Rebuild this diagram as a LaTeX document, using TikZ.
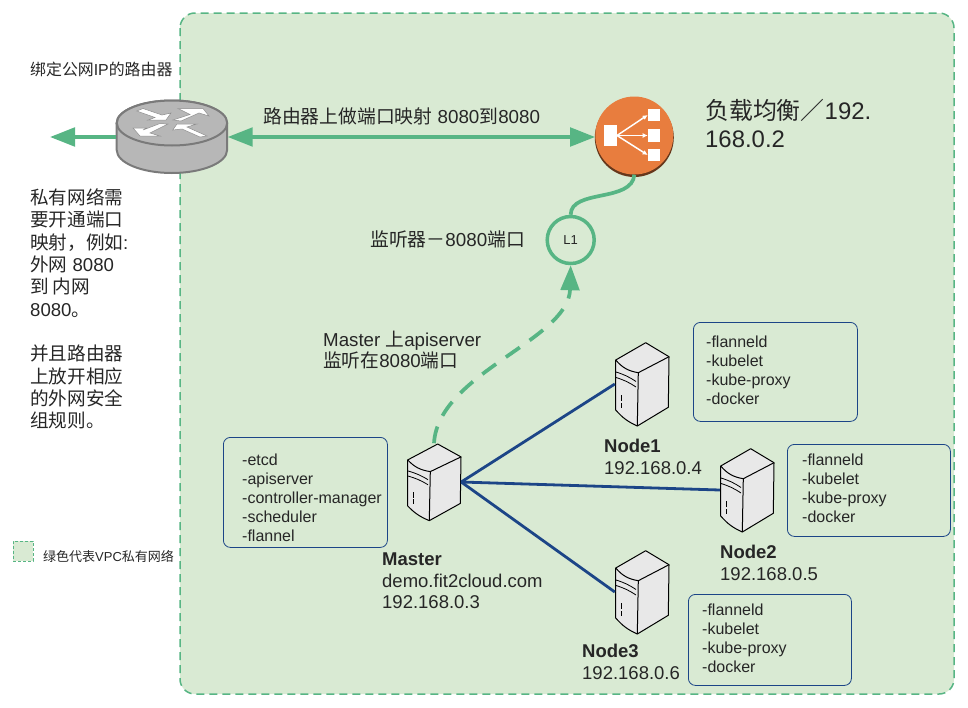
\documentclass[tikz,border=0pt]{standalone}
\usepackage{fontspec}
\setmainfont{Liberation Sans}
\newfontfamily\cjk{Noto Sans CJK SC}
\newcommand{\zh}[1]{{\cjk #1}}
\usetikzlibrary{arrows.meta,positioning}
\definecolor{vpcfill}{HTML}{D9EAD3}
\definecolor{vpcgreen}{HTML}{57B584}
\definecolor{linkblue}{HTML}{1C4587}
\definecolor{routergray}{HTML}{B7B7B7}
\definecolor{lborange}{HTML}{E87D3E}
\tikzset{
  lab/.style={anchor=west,inner sep=0pt,align=left,text=black!85},
  listbox/.style={draw=linkblue,rounded corners=7pt,anchor=north west,inner sep=0pt,
    minimum width=#1,line width=.8pt},
  listtxt/.style={lab,font=\fontsize{16}{19}\selectfont},
  greenline/.style={draw=vpcgreen,line width=3.7pt},
  wire/.style={draw=linkblue,line width=2.8pt},
  srvnode/.style={inner sep=0pt,minimum width=54pt,minimum height=84pt},
  pics/srv/.style={code={
    \draw[fill=black!9,line width=1pt,line join=round]
      (3.7,-41.3)--(27,-27.3)--(26.3,23.3)--(-4.7,42)
      to[bend left=12](-26.3,26)--(-26.3,-24)--cycle;
    \draw[line width=1pt](-26.3,-24)to[bend right=20](-3.7,-11.3)--(27,-27.3);
    \draw[line width=1pt](-3.7,-11.3)--(-4.7,42);
    \draw[line width=.8pt](-26,-12)to[bend left=8](-6,-2.5);
    \draw[line width=.8pt](-26,-6.5)to[bend left=8](-6,3);
    \draw[line width=.7pt](-21,11)--(-21,17)(-21,19)--(-21,24);
  }}
}
\begin{document}
\begin{tikzpicture}[x=1pt,y=-1pt]
\useasboundingbox (0,0) rectangle (968,707);
% VPC area
\draw[fill=vpcfill,draw=vpcgreen,line width=1.5pt,dash pattern=on 8pt off 5pt,rounded corners=15pt]
  (180,13) rectangle (954,694);
% legend
\node (legendbox) [fill=vpcfill,draw=vpcgreen,line width=.8pt,dash pattern=on 3pt off 2pt,
  minimum size=20pt,inner sep=0pt] at (23,551) {};
\node (legendtxt) [lab,font=\fontsize{13}{15}\selectfont] at (43,556) {\zh{绿色代表}VPC\zh{私有网络}};
% left texts
\node (routertxt) [lab,font=\fontsize{15.9}{17}\selectfont] at (30,69) {\zh{绑定公网}IP\zh{的路由器}};
\node (notetxt) [lab,font=\fontsize{18.6}{22.3}\selectfont] at (30,309) {%
  \zh{私有网络需}\\\zh{要开通端口}\\\zh{映射，例如}:\\\zh{外网} 8080\\\zh{到 内网}\\8080\zh{。}\\[22.3pt]%
  \zh{并且路由器}\\\zh{上放开相应}\\\zh{的外网安全}\\\zh{组规则。}};
% router
\node (router) [inner sep=0pt,minimum width=111pt,minimum height=73pt] at (172,137) {};
\draw[fill=routergray,draw=black!52,line width=2pt]
  (116.7,123)--(116.7,150) arc[start angle=180,end angle=360,x radius=55.2,y radius=-23]
  --(227,123) arc[start angle=0,end angle=180,x radius=55.2,y radius=-22.5]--cycle;
\draw[fill=routergray,draw=black!52,line width=2pt] (172,123) ellipse[x radius=55.2,y radius=22.5];
\begin{scope}[fill=white,draw=black!45,line width=.5pt]
  \filldraw (136.7,111)--(143,108.5)--(162,115)--(171,113)--(166,120)--(148,120)--(155,117.5)--cycle;
  \filldraw (173,120)--(190,114.5)--(178,108.5)--(203,108.5)--(209,116)--(199,113)--(181,121)--cycle;
  \filldraw (133,128)--(147,128)--(143,130)--(160,123.5)--(168,124)--(150,133)--(160,136)--(140,136)--cycle;
  \filldraw (172.7,130)--(177,124)--(197,124)--(187,127)--(207,136)--(200,137)--(182,129)--cycle;
\end{scope}
% load balancer
\fill[black!45!lborange!80!black] (634.3,137.5) circle[radius=39.5];
\node (lb) [circle,fill=lborange,minimum size=78pt,inner sep=0pt] at (634.3,135.5) {};
\fill[white] (603.5,125) rectangle (617.3,145.7);
\foreach \y in {115,135.5,155} {
  \fill[white] (647.7,\y-6.3) rectangle (660,\y+6.3);
  \draw[white,line width=1.5pt,-{Latex[length=5pt,width=5pt]}] (617,135.5)--(647.7,\y);
}
\node (lbtxt) [lab,font=\fontsize{23.9}{28}\selectfont] at (705,124) {\zh{负载均衡／}192.\\168.0.2};
% listener
\node (lone) [circle,draw=vpcgreen,line width=3.5pt,minimum size=47pt,inner sep=0pt,
  font=\fontsize{13}{14}\selectfont,text=black!85] at (570.7,240) {L1};
\node (lonetxt) [lab,font=\fontsize{18.8}{19}\selectfont] at (370,239) {\zh{监听器－}8080\zh{端口}};
\node (aptxt) [lab,font=\fontsize{18.7}{21}\selectfont] at (323,350) {Master \zh{上}apiserver\\\zh{监听在}8080\zh{端口}};
% servers
\node (master) [srvnode,yscale=.92] at (434,482) {};
\node (nodeone) [srvnode] at (642,384) {};
\node (nodetwo) [srvnode] at (747,490) {};
\node (nodethree) [srvnode] at (642,592) {};
\path (master) pic[yscale=.92] {srv};
\foreach \n in {nodeone,nodetwo,nodethree}
  \path (\n) pic {srv};
% links
\draw[wire] (master.east)--(nodeone.west);
\draw[wire] (master.east)--(nodetwo.west);
\draw[wire] (master.east)--(nodethree.west);
% green connectors
\coordinate (wan) at (50,137);
\draw[greenline,-{Triangle[length=25pt,width=18.5pt]}] (router.west)--(wan);
\draw[greenline,{Triangle[length=25pt,width=18.5pt]}-{Triangle[length=25pt,width=18.5pt]}] (router.east)--(lb.west|-router.east);
\draw[greenline] (lb.south) .. controls +(-2,28) and +(0,-26) .. (lone.north);
\draw[greenline,dash pattern=on 17pt off 12pt,-{Triangle[length=25pt,width=18.5pt]}]
  (master.north) .. controls +(4,-70) and +(-2,75) .. (lone.south);
\node (maptxt) [lab,font=\fontsize{18.8}{22}\selectfont] at (263,116) {\zh{路由器上做端口映射} 8080\zh{到}8080};
% lists
\node (masterbox) [listbox=164pt,minimum height=110pt] at (223,437) {};
\node (masterlist) [listtxt] at (242,498) {-etcd\\-apiserver\\-controller-manager\\-scheduler\\-flannel};
\foreach \b/\x/\y/\w/\h/\tx/\ty in {one/693/322/164/99/706/370.5,two/787/444/163/92/802/488.5,three/688/594/163/91/702/638.5} {
  \node (box\b) [listbox=\w pt,minimum height=\h pt] at (\x,\y) {};
  \node (list\b) [listtxt] at (\tx,\ty) {-flanneld\\-kubelet\\-kube-proxy\\-docker};
}
% labels
\node (masterlab) [lab,font=\fontsize{18.5}{21.5}\selectfont] at (382,581) {\textbf{Master}\\demo.fit2cloud.com\\192.168.0.3};
\foreach \b/\name/\ip/\x/\y in {one/Node1/192.168.0.4/604/457,two/Node2/192.168.0.5/720/563,three/Node3/192.168.0.6/582/662}
  \node (lab\b) [lab,font=\fontsize{18.5}{22}\selectfont] at (\x,\y) {\textbf{\name}\\\ip};
\end{tikzpicture}
\end{document}
